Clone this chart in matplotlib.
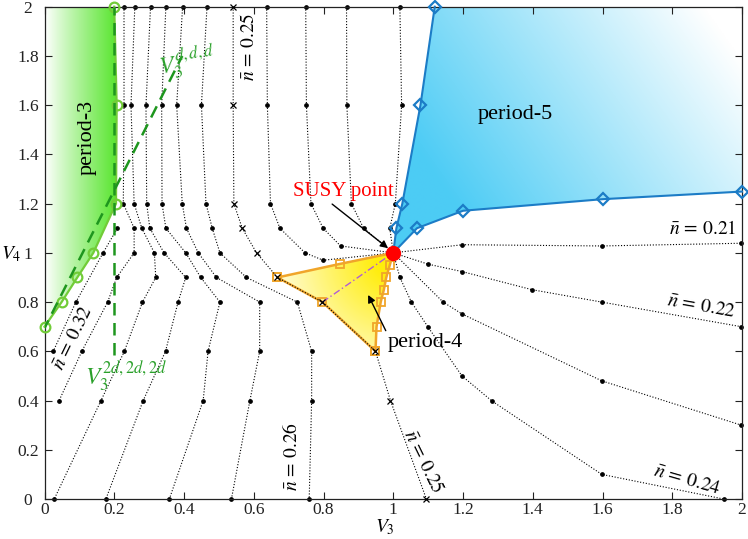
import numpy as np
import matplotlib
matplotlib.use("Agg")
import matplotlib.pyplot as plt
from matplotlib.patches import Polygon

plt.rcParams["font.family"] = ["Liberation Serif", "DejaVu Serif"]
plt.rcParams["mathtext.fontset"] = "stix"

# --- values ---------------------------------------------------------------
# density lines left of quarter filling (listed top -> bottom)
n26_v3 = [0.466, 0.450, 0.463, 0.481, 0.503, 0.579, 0.725, 0.766, 0.766, 0.759]
n26_v4 = [2.0, 1.6, 1.2, 1.1, 1.0, 0.9, 0.8, 0.6, 0.4, 0.0]
n27_v3 = [0.396, 0.379, 0.395, 0.407, 0.441, 0.493, 0.617, 0.617, 0.589, 0.536]
n27_v4 = [2.0, 1.6, 1.2, 1.1, 1.0, 0.9, 0.8, 0.6, 0.4, 0.0]
n28_v3 = [0.348, 0.336, 0.337, 0.348, 0.405, 0.448, 0.503, 0.469, 0.455, 0.358]
n28_v4 = [2.0, 1.6, 1.2, 1.1, 1.0, 0.9, 0.8, 0.6, 0.4, 0.0]
n29_v3 = [0.304, 0.291, 0.293, 0.302, 0.343, 0.405, 0.383, 0.347, 0.283, 0.176]
n29_v4 = [2.0, 1.6, 1.2, 1.1, 1.0, 0.9, 0.8, 0.6, 0.4, 0.0]
n30_v3 = [0.259, 0.248, 0.257, 0.279, 0.315, 0.319, 0.281, 0.229, 0.162, 0.028]
n30_v4 = [2.0, 1.6, 1.2, 1.1, 1.0, 0.9, 0.8, 0.6, 0.4, 0.0]
n31_v3 = [0.228, 0.228, 0.226, 0.257, 0.257, 0.207, 0.181, 0.107, 0.042]
n31_v4 = [2.0, 1.6, 1.2, 1.1, 1.0, 0.9, 0.8, 0.6, 0.4]
n32_v3 = [0.209, 0.168, 0.090, 0.025]
n32_v4 = [1.1, 1.0, 0.8, 0.6]

# quarter filling line (crosses)
n25_v3 = [0.541, 0.541, 0.543, 0.567, 0.608, 0.668, 0.797, 0.949, 0.992, 1.095]
n25_v4 = [2.0, 1.6, 1.2, 1.1, 1.0, 0.9, 0.8, 0.6, 0.4, 0.0]

# lines below quarter filling: from the top edge into the SUSY point
u24_v3 = [0.637, 0.639, 0.648, 0.675, 0.747, 0.799, 1.0]
u24_v4 = [2.0, 1.6, 1.2, 1.1, 1.0, 0.97, 1.0]
u23_v3 = [0.749, 0.751, 0.764, 0.799, 0.849, 1.0]
u23_v4 = [2.0, 1.6, 1.2, 1.1, 1.028, 1.0]
u22_v3 = [0.866, 0.867, 0.880, 0.915, 1.0]
u22_v4 = [2.0, 1.6, 1.2, 1.1, 1.0]
u21_v3 = [1.019, 1.024, 1.006, 0.990, 1.0]
u21_v4 = [2.0, 1.6, 1.2, 1.1, 1.0]

# and out of the SUSY point to the right
r21_v3 = [1.0, 1.198, 1.598, 1.998]
r21_v4 = [1.0, 1.033, 1.028, 1.039]
r22_v3 = [1.0, 1.100, 1.197, 1.399, 1.598, 1.998]
r22_v4 = [1.0, 0.954, 0.924, 0.850, 0.800, 0.700]
r23_v3 = [1.0, 1.143, 1.197, 1.598, 1.998]
r23_v4 = [1.0, 0.800, 0.752, 0.480, 0.300]
r24_v3 = [1.0, 1.019, 1.052, 1.100, 1.197, 1.283, 1.598, 1.947]
r24_v4 = [1.0, 0.900, 0.800, 0.698, 0.500, 0.398, 0.100, 0.0]

# period-3 boundary
p3_v3 = [0.0, 0.049, 0.094, 0.140, 0.205, 0.207, 0.200]
p3_v4 = [0.7, 0.8, 0.9, 1.0, 1.2, 1.6, 2.0]

# period-5 boundary, two branches out of the SUSY point
p5_up_v3 = [1.0, 1.009, 1.026, 1.078, 1.119]
p5_up_v4 = [1.0, 1.10, 1.20, 1.60, 2.00]
p5_lo_v3 = [1.0, 1.068, 1.200, 1.600, 2.000]
p5_lo_v4 = [1.0, 1.100, 1.171, 1.218, 1.249]

# period-4 triangle
p4_top_v3 = [0.668, 0.847, 1.0]
p4_top_v4 = [0.9, 0.955, 1.0]
p4_right_v3 = [1.0, 0.990, 0.980, 0.973, 0.964, 0.952, 0.949]
p4_right_v4 = [1.0, 0.95, 0.90, 0.85, 0.80, 0.70, 0.60]
p4_low_v3 = [0.949, 0.797, 0.668]
p4_low_v4 = [0.6, 0.8, 0.9]

# straight guide lines
ddd_v3 = [-0.005, 0.395]
ddd_v4 = [0.68, 1.80]
d2_v3 = [0.2, 0.2]
d2_v4 = [0.585, 2.0]

susy_v3, susy_v4 = 1.0, 1.0

tick_vals = [0, 0.2, 0.4, 0.6, 0.8, 1, 1.2, 1.4, 1.6, 1.8, 2]
tick_text = ["0", "0.2", "0.4", "0.6", "0.8", "1", "1.2", "1.4", "1.6", "1.8", "2"]

green = (0.36, 0.90, 0.20)
blue = (0.30, 0.80, 0.96)
yellow = (1.0, 0.93, 0.05)
orange = "#f0a52a"

fig = plt.figure(figsize=(7.48, 5.39), dpi=100)
ax = fig.add_axes([44.5 / 748, 40 / 539, 697.5 / 748, 492.3 / 539])


def shade(verts, rgb, weight):
    xs = np.linspace(-0.02, 2.02, 500)
    ys = np.linspace(-0.02, 2.02, 500)
    X, Y = np.meshgrid(xs, ys)
    w = np.clip(weight(X, Y), 0, 1)[..., None]
    img = 1 - w * (1 - np.array(rgb))
    im = ax.imshow(img, extent=(xs[0], xs[-1], ys[0], ys[-1]), origin="lower",
                   aspect="auto", zorder=1, interpolation="bilinear")
    patch = Polygon(verts, closed=True, fc="none", ec="none")
    ax.add_patch(patch)
    im.set_clip_path(patch)


# period-3: white at V3=0 to green at the boundary
shade(list(zip(p3_v3, p3_v4)) + [(0.0, 2.0)], green, lambda X, Y: (X / 0.2) ** 0.9)
# period-5: saturated near the SUSY corner, white towards (2, 2)
p5_poly = list(zip(p5_up_v3, p5_up_v4)) + [(2.0, 2.0)] + list(zip(p5_lo_v3, p5_lo_v4))[::-1]
shade(p5_poly, blue, lambda X, Y: 1.25 - 0.9 * (X - 1) - 0.45 * (Y - 1))
# period-4: yellow near the SUSY point
p4_poly = list(zip(p4_top_v3, p4_top_v4)) + list(zip(p4_right_v3, p4_right_v4))[1:] + list(zip(p4_low_v3, p4_low_v4))[1:]
shade(p4_poly, yellow,
      lambda X, Y: 1.15 - np.hypot((X - 1.0) * 349, (Y - 0.97) * 246) / 120)

dot_kw = dict(color="black", lw=0.8, ls=(0, (1, 1.6)), marker="o", ms=2.4, zorder=2)
for xs_, ys_ in [(n26_v3, n26_v4), (n27_v3, n27_v4), (n28_v3, n28_v4), (n29_v3, n29_v4),
                 (n30_v3, n30_v4), (n31_v3, n31_v4), (n32_v3, n32_v4),
                 (u24_v3, u24_v4), (u23_v3, u23_v4), (u22_v3, u22_v4), (u21_v3, u21_v4),
                 (r21_v3, r21_v4), (r22_v3, r22_v4), (r23_v3, r23_v4), (r24_v3, r24_v4)]:
    ax.plot(xs_, ys_, clip_on=False, **dot_kw)

# period-4 edges
ax.plot(p4_top_v3, p4_top_v4, color=orange, lw=1.8, marker="s", ms=6, mfc="none", mew=1.3,
        markevery=[0, 1], zorder=3)
ax.plot(p4_right_v3, p4_right_v4, color=orange, lw=1.8, marker="s", ms=6, mfc="none", mew=1.3,
        markevery=list(range(1, len(p4_right_v3))), zorder=3)
ax.plot(p4_low_v3, p4_low_v4, color=orange, lw=1.8, marker="s", ms=6, mfc="none", mew=1.3, zorder=3)
ax.plot([p4_low_v3[1], susy_v3], [p4_low_v4[1], susy_v4], color="#b05cd6", lw=1.0,
        ls=(0, (5, 2, 1, 2)), zorder=3)

# quarter filling line with crosses
ax.plot(n25_v3, n25_v4, color="black", lw=0.8, ls=(0, (1, 1.6)), marker="x", ms=4.5, mew=0.9,
        zorder=4, clip_on=False)

# period-3 boundary and guide lines
ax.plot(p3_v3, p3_v4, color="#72cc38", lw=1.6, marker="o", ms=7, mfc="none", mew=1.6,
        zorder=4, clip_on=False)
ax.plot(ddd_v3, ddd_v4, color="#1e961e", lw=1.8, ls=(0, (5, 3)), zorder=4)
ax.plot(d2_v3, d2_v4, color="#1e961e", lw=1.8, ls=(0, (5, 3)), zorder=4)

# period-5 boundary
ax.plot(p5_up_v3, p5_up_v4, color="#1c7cc6", lw=1.5, marker="D", ms=6, mfc="none", mew=1.6,
        markevery=list(range(1, len(p5_up_v3))), zorder=4, clip_on=False)
ax.plot(p5_lo_v3, p5_lo_v4, color="#1c7cc6", lw=1.5, marker="D", ms=6, mfc="none", mew=1.6,
        markevery=list(range(1, len(p5_lo_v3))), zorder=4, clip_on=False)

ax.plot([susy_v3], [susy_v4], marker="o", ms=10, color="#ff0000", zorder=6)

# text
ax.text(0.122, 1.467, "period-3", rotation=90, fontsize=16, ha="center", va="center", zorder=7)
ax.text(1.351, 1.561, "period-5", fontsize=16, ha="center", va="center", zorder=7)
ax.annotate("period-4", xy=(0.928, 0.829), xytext=(1.093, 0.634), fontsize=16,
            ha="center", va="center", zorder=7,
            arrowprops=dict(arrowstyle="-|>", color="black", lw=1.0, mutation_scale=11,
                            shrinkA=0, shrinkB=0, relpos=(0.0, 0.9)))
ax.annotate("SUSY point", xy=(0.985, 1.019), xytext=(0.858, 1.248), fontsize=15, color="red",
            ha="center", va="center", zorder=7,
            arrowprops=dict(arrowstyle="-|>", color="black", lw=1.0, mutation_scale=11,
                            shrinkA=0, shrinkB=0, relpos=(0.35, 0.0)))

ax.text(0.41, 1.775, r"$V_3^{d,d,d}$", color="#2aa02a", fontsize=17, ha="center", va="center",
        rotation=8, zorder=7)
ax.text(0.235, 0.50, r"$V_3^{2d,2d,2d}$", color="#2aa02a", fontsize=17, ha="center",
        va="center", zorder=7)

lab_kw = dict(fontsize=14, ha="center", va="center", zorder=7)
ax.text(0.586, 1.837, r"$\bar{n}\,=\,0.25$", rotation=90, **lab_kw)
ax.text(0.083, 0.653, r"$\bar{n}\,=\,0.32$", rotation=64, **lab_kw)
ax.text(0.709, 0.171, r"$\bar{n}\,=\,0.26$", rotation=90, **lab_kw)
ax.text(1.085, 0.152, r"$\bar{n}\,=\,0.25$", rotation=-64, **lab_kw)
ax.text(1.841, 0.077, r"$\bar{n}\,=\,0.24$", rotation=-16, **lab_kw)
ax.text(1.884, 0.780, r"$\bar{n}\,=\,0.22$", rotation=-10, **lab_kw)
ax.text(1.887, 1.098, r"$\bar{n}\,=\,0.21$", **lab_kw)

# axes
ax.set_xlim(0, 2)
ax.set_ylim(0, 2)
ax.set_xticks(tick_vals)
ax.set_xticklabels(tick_text)
ax.set_yticks(tick_vals)
ax.set_yticklabels(tick_text)
ax.tick_params(direction="in", top=True, right=True, length=5, width=0.8, labelsize=12.5,
               colors="#222222")
ax.tick_params(axis="x", pad=2.5)
ax.tick_params(axis="y", pad=12)
for lab in ax.get_yticklabels():
    lab.set_ha("center")
for sp in ax.spines.values():
    sp.set_linewidth(0.9)
    sp.set_color("#222222")

ax.text(0.488, -0.058, r"$V_3$", transform=ax.transAxes, fontsize=14, ha="center", va="center")
ax.text(-0.048, 0.498, r"$V_4$", transform=ax.transAxes, fontsize=14, ha="center", va="center")

fig.savefig("out.png", dpi=100)
